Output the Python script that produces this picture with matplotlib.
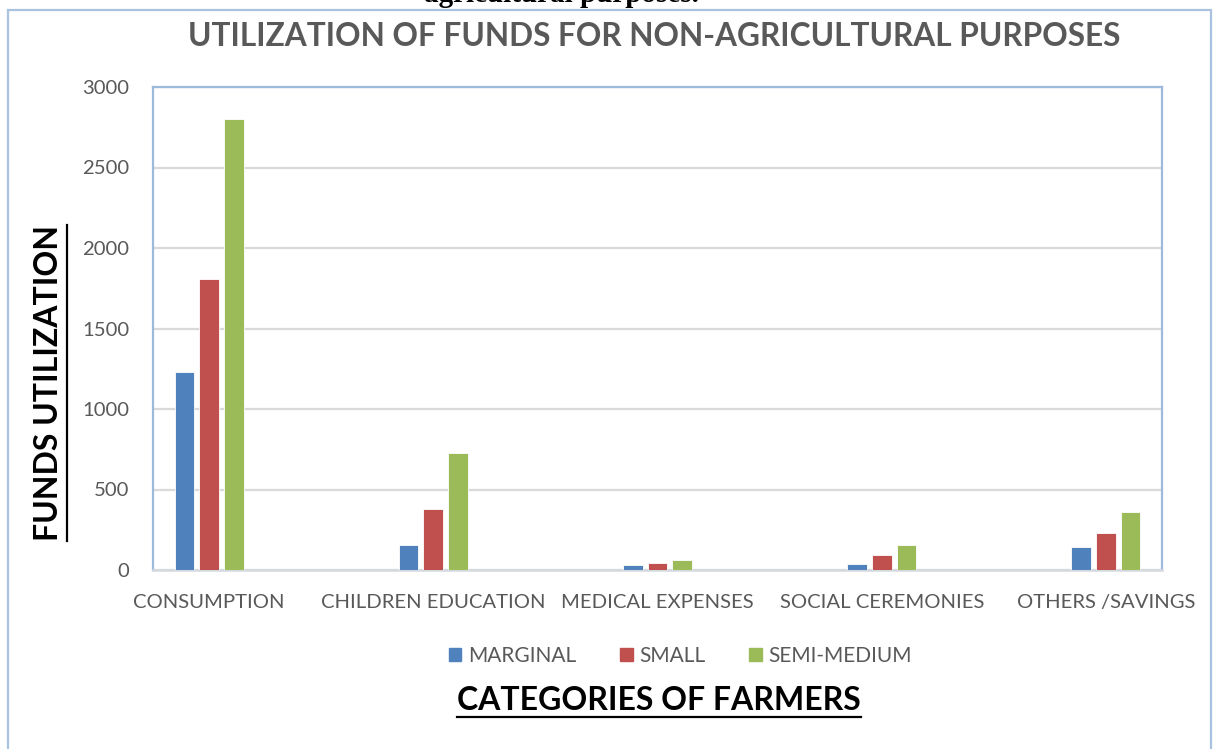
import matplotlib
matplotlib.use("Agg")
import matplotlib.pyplot as plt
import numpy as np
from matplotlib.patches import Patch, Rectangle
from matplotlib.lines import Line2D

# data
categories = ["CONSUMPTION", "CHILDREN EDUCATION", "MEDICAL EXPENSES",
              "SOCIAL CEREMONIES", "OTHERS /SAVINGS"]
series_names = ["MARGINAL", "SMALL", "SEMI-MEDIUM"]
marginal = [1232, 153, 32, 35, 145]
small = [1808, 377, 43, 92, 230]
semi_medium = [2802, 729, 60, 158, 363]
colors = ["#4F81BD", "#C0504D", "#9BBB59"]

plt.rcParams['font.family'] = ['Lato', 'DejaVu Sans']
W, H = 1218, 749


def main():
    fig = plt.figure(figsize=(W / 100, H / 100), dpi=100)
    fig.patch.set_facecolor("white")

    # outer chart frame
    fig.patches.append(Rectangle((8 / W, -0.05), (1211 - 8) / W, 1.05 - 10 / H,
                                 transform=fig.transFigure, fill=False,
                                 edgecolor="#A9C2E0", linewidth=1.6))

    # leftover caption from the page above (cut off, as in the source)
    fig.text(561 / W, 1 - 2 / H, "agricultural purposes.", ha="center",
             va="baseline", fontsize=21, fontweight="bold",
             family="Liberation Serif", color="black")

    ax = fig.add_axes([153 / W, 1 - 570 / H, (1162 - 153) / W, (570 - 87) / H])

    x = np.arange(len(categories))
    width = 0.088
    step = 0.11
    data = [marginal, small, semi_medium]
    for i, (vals, name) in enumerate(zip(data, series_names)):
        ax.bar(x + (i - 1) * step, vals, width, color=colors[i],
               edgecolor="white", linewidth=0.6, label=name, zorder=3)

    ax.set_xlim(-0.25, len(categories) - 0.75)
    ax.set_ylim(0, 3000)
    ax.set_yticks(np.arange(0, 3001, 500))
    ax.set_xticks(x)
    ax.set_xticklabels(categories)
    ax.tick_params(axis="both", length=0, labelsize=14.6, labelcolor="#595959")
    ax.tick_params(axis="y", pad=17)
    ax.tick_params(axis="x", pad=17)
    ax.yaxis.grid(True, color="#D9D9D9", linewidth=1.6, zorder=0)
    ax.set_axisbelow(True)
    for s in ["left", "top", "right"]:
        ax.spines[s].set_color("#9DB9DC")
        ax.spines[s].set_linewidth(1.6)
    ax.spines["bottom"].set_color("#D4D9E0")
    ax.spines["bottom"].set_linewidth(1.8)

    # title
    fig.text(654 / W, 1 - 37 / H,
             "UTILIZATION OF FUNDS FOR NON-AGRICULTURAL PURPOSES",
             ha="center", va="center", fontsize=22.8, fontweight="bold",
             color="#595959")

    # axis titles (underlined)
    ylab = fig.text(49 / W, 1 - 383 / H, "FUNDS UTILIZATION", rotation=90,
                    ha="center", va="center", fontsize=23, fontweight="bold",
                    color="black")
    xlab = fig.text(659 / W, 1 - 700 / H, "CATEGORIES OF FARMERS",
                    ha="center", va="center", fontsize=23, fontweight="bold",
                    color="black")

    handles = [Patch(color=c) for c in colors]
    fig.legend(handles, series_names, loc="center",
               bbox_to_anchor=(680 / W, 1 - 656 / H), ncol=3, frameon=False,
               fontsize=15, labelcolor="#595959", handlelength=0.62,
               handleheight=0.62, handletextpad=0.3, columnspacing=2.1)

    fig.canvas.draw()
    r = fig.canvas.get_renderer()
    bb = xlab.get_window_extent(r)
    fig.lines.append(Line2D([bb.x0 / W, bb.x1 / W], [1 - 717 / H, 1 - 717 / H],
                            transform=fig.transFigure, color="black", linewidth=1.6))
    bb = ylab.get_window_extent(r)
    fig.lines.append(Line2D([67 / W, 67 / W], [bb.y0 / H, bb.y1 / H],
                            transform=fig.transFigure, color="black", linewidth=1.6))

    fig.savefig("out.png", dpi=100)


if __name__ == "__main__":
    main()
